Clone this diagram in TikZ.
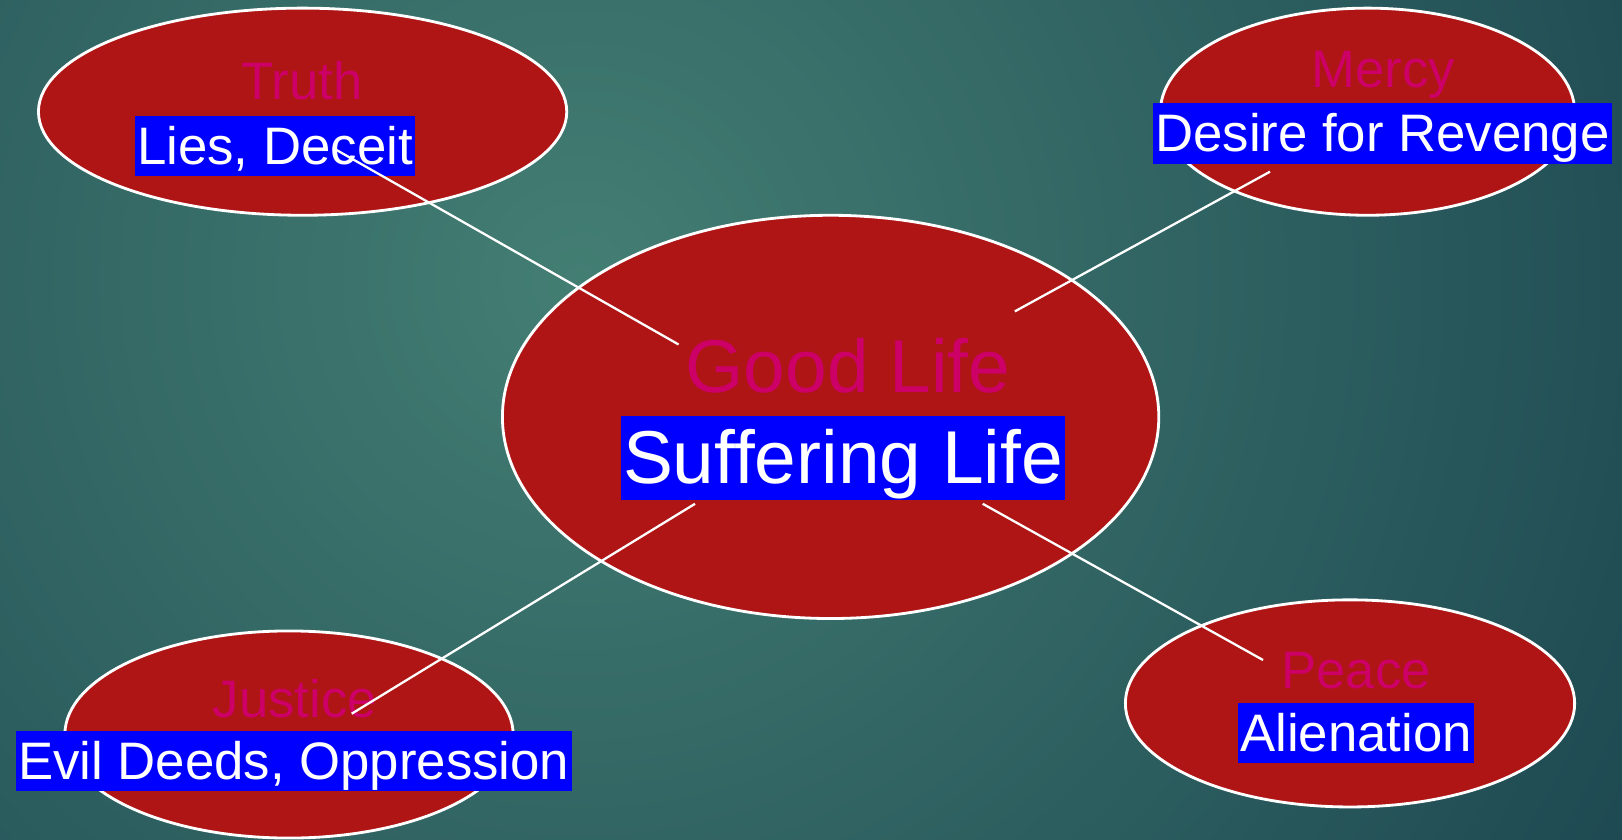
\documentclass[tikz,border=0pt]{standalone}
\usepackage{fontspec}
\setmainfont{Liberation Sans}
\usetikzlibrary{shapes.geometric,calc}
\definecolor{bgLight}{RGB}{67,126,115}
\definecolor{bgDark}{RGB}{26,68,79}
\definecolor{ovalRed}{RGB}{176,21,21}
\definecolor{virtueMagenta}{RGB}{204,0,102}
\tikzset{
  every picture/.append style={line width=0.6pt},
}
\begin{document}
\begin{tikzpicture}[
  x=0.01cm, y=-0.01cm,
  oval/.style     ={ellipse, draw=white, line width=0.8pt, fill=ovalRed, inner sep=0pt},
  virtue/.style   ={anchor=base, text=virtueMagenta, inner sep=0pt, font=\fontsize{15}{18}\selectfont},
  bigvirtue/.style={virtue, font=\fontsize{21.3}{25}\selectfont},
  vice/.style     ={fill=blue, text=white, inner xsep=0.6pt, inner ysep=0.2pt,
                    text height=13.6pt, text depth=3.2pt, font=\fontsize{15}{18}\selectfont},
  bigvice/.style  ={vice, inner xsep=0.6pt, text height=19.2pt, text depth=4.5pt,
                    font=\fontsize{21.3}{25}\selectfont},
  link/.style     ={draw=white, line width=0.65pt}
]

\useasboundingbox (0,0) rectangle (1622,840);
\begin{scope}
  \clip (0,0) rectangle (1622,840);
  \shade[inner color=bgLight, outer color=bgDark] (580,280) circle (13cm);
\end{scope}

\node[oval, minimum width=5.28cm, minimum height=2.07cm] (truth)   at (302.6,111.7) {};
\node[oval, minimum width=4.14cm, minimum height=2.07cm] (mercy)   at (1367.5,111.7) {};
\node[oval, minimum width=6.56cm, minimum height=4.03cm] (good)    at (830.6,416.9) {};
\node[oval, minimum width=4.48cm, minimum height=2.07cm] (justice) at (289,734.5) {};
\node[oval, minimum width=4.49cm, minimum height=2.07cm] (peace)   at (1350,703.4) {};

\node[virtue]    (truthtext)   at (302,100)      {Truth};
\node[vice]      (lies)        at (275,146)      {Lies, Deceit};
\node[virtue]    (mercytext)   at (1383,88)      {Mercy};
\node[vice]      (revenge)     at (1382.5,133.4) {Desire for Revenge};
\node[bigvirtue] (goodtext)    at (848,393)      {Good Life};
\node[bigvice]   (suffering)   at (843,458)      {Suffering Life};
\node[virtue]    (justicetext) at (295,717)      {Justice};
\node[vice]      (evil)        at (293.8,760.8)  {Evil Deeds, Oppression};
\node[virtue]    (peacetext)   at (1356,688)     {Peace};
\node[vice]      (alienation)  at (1356,733)     {Alienation};

\draw[link] ([shift={(58,2)}]lies.center)        -- ([shift={(-152,-72.4)}]good.center);
\draw[link] ([shift={(-97.5,60)}]mercy.center)   -- ([shift={(184.2,-105.5)}]good.center);
\draw[link] ([shift={(62.7,-20.8)}]justice.center) -- ([shift={(-135.6,86.9)}]good.center);
\draw[link] ([shift={(-87,-43.4)}]peace.center)  -- ([shift={(152.1,86.9)}]good.center);

\end{tikzpicture}
\end{document}
